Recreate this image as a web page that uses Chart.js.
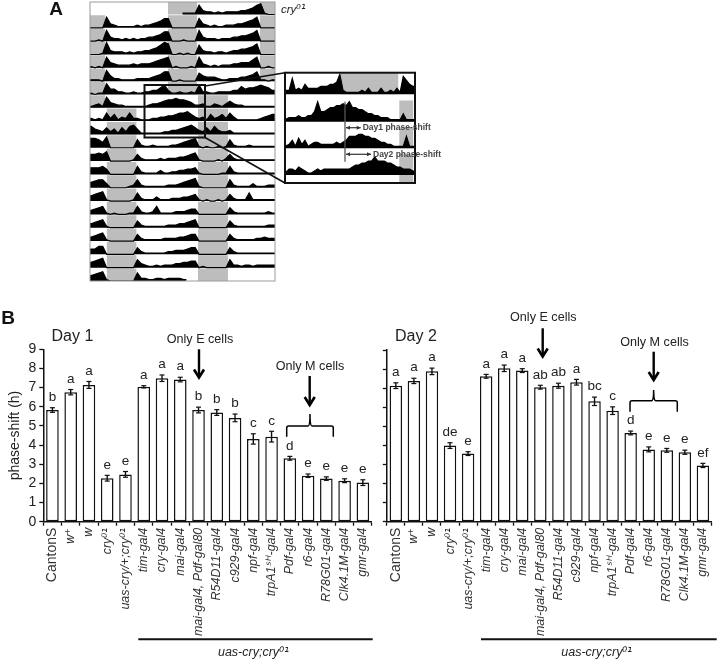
<!DOCTYPE html>
<html>
<head>
<meta charset="utf-8">
<style>
@font-face{font-family:"SupMarks";src:local("DejaVu Sans Oblique"),local("DejaVuSans-Oblique");font-style:italic;unicode-range:U+00B9,U+2070,U+207A,U+02E2,U+1D34}
html,body{margin:0;padding:0;background:#fff;width:720px;height:661px;overflow:hidden}
canvas{position:absolute;display:block}
</style>
<script src="https://cdn.jsdelivr.net/npm/chart.js@4/dist/chart.umd.min.js"></script>
</head>
<body>
<canvas id="acto" style="left:0;top:0" width="720" height="300"></canvas>
<canvas id="inset" style="left:0;top:0" width="720" height="300"></canvas>
<canvas id="day1" style="left:0;top:310px" width="380" height="351"></canvas>
<canvas id="day2" style="left:370px;top:300px" width="350" height="361"></canvas>
<script>
const genotypes = ['CantonS','w⁺','w','cry⁰¹','uas-cry/+;cry⁰¹','tim-gal4','cry-gal4','mai-gal4','mai-gal4, Pdf-gal80','R54D11-gal4','c929-gal4','npf-gal4','trpA1ˢᴴ-gal4','Pdf-gal4','r6-gal4','R78G01-gal4','Clk4.1M-gal4','gmr-gal4'];
const yTicks = [0,1,2,3,4,5,6,7,8,9];

const day1Values = [5.83,6.76,7.14,2.27,2.47,7.04,7.49,7.42,5.83,5.70,5.42,4.32,4.44,3.31,2.40,2.25,2.14,2.04];
const day1Errors = [0.12,0.14,0.18,0.15,0.15,0.06,0.17,0.12,0.15,0.15,0.20,0.27,0.28,0.10,0.09,0.09,0.10,0.15];
const day1Letters = ['b','a','a','e','e','a','a','a','b','b','b','c','c','d','e','e','e','e'];

const day2Values = [7.13,7.38,7.88,3.99,3.57,7.62,8.04,7.92,7.05,7.13,7.31,6.31,5.82,4.65,3.79,3.74,3.64,2.95];
const day2Errors = [0.15,0.14,0.17,0.15,0.10,0.10,0.17,0.10,0.10,0.13,0.15,0.22,0.20,0.10,0.13,0.10,0.11,0.11];
const day2Letters = ['a','a','a','de','e','a','a','a','ab','ab','a','bc','c','d','e','e','e','ef'];

// actogram activity per hour bin, one row per line of the double plot
const actoStart = [24,0,0,0,0,0,0,0,0,0,0,0,0,0,0,0,0,0,0,0,0];
const actoRows = [
[1,1,1,1,7,3,2,2,1,2,1,2,2,2,2,3,3,4,5,7,8,1,0,0],
[0,0,0,0,8,3,2,1,1,1,1,1,2,1,2,2,3,4,5,7,7,0,0,0,0,0,0,0,7,3,2,1,2,1,1,2,2,2,3,3,4,5,6,8,0,0,0,0],
[0,0,1,0,8,3,2,2,1,2,1,2,1,2,2,3,3,4,5,7,7,0,0,0,1,0,0,0,8,3,2,2,2,1,2,2,2,3,3,4,4,5,6,8,0,0,0,0],
[0,0,0,1,9,3,2,2,2,1,2,1,2,2,3,3,4,5,7,9,8,0,0,1,0,1,0,0,7,3,2,2,1,2,2,1,2,3,3,4,4,5,6,8,0,0,0,0],
[1,0,1,0,8,4,3,2,2,2,2,3,2,3,3,3,4,5,6,7,8,0,1,0,0,0,1,0,8,3,2,1,2,1,2,2,2,3,3,4,4,4,6,8,0,0,1,0],
[1,1,1,0,8,4,2,2,1,1,1,1,2,2,2,2,3,4,5,7,7,0,0,1,0,0,0,0,6,4,3,3,3,2,1,1,2,2,2,3,3,4,5,7,1,1,0,1],
[1,0,1,1,8,4,4,2,2,1,1,2,1,1,2,2,3,3,5,7,3,1,1,2,1,1,2,1,7,2,2,1,1,2,2,2,2,3,3,6,4,5,5,6,7,6,5,3],
[1,2,3,1,8,4,3,2,2,1,1,1,1,1,1,2,3,3,4,5,6,6,7,6,6,5,4,2,2,3,1,1,3,2,1,3,5,3,2,2,1,1,1,1,1,1,1,1],
[2,1,2,1,6,2,5,1,3,2,6,2,2,1,1,1,2,2,3,3,4,4,5,6,6,7,5,3,2,3,1,5,2,3,5,2,6,3,1,1,1,1,1,1,2,3,4,5],
[6,4,3,2,5,2,4,1,5,2,6,7,4,1,1,1,1,1,1,2,2,3,3,4,5,6,7,5,3,2,5,2,6,3,2,2,3,1,1,1,1,1,1,1,1,1,1,1],
[7,7,6,4,8,0,0,0,0,0,0,0,6,2,1,1,2,1,1,1,1,2,2,3,4,5,6,7,1,0,1,0,0,1,0,1,6,2,1,1,1,2,1,1,1,1,1,1],
[5,5,6,5,7,0,0,0,0,0,0,1,5,2,1,1,1,1,2,1,2,2,2,3,3,4,5,6,1,0,0,0,0,1,0,2,5,2,1,1,1,1,1,1,1,1,1,1],
[5,5,5,6,4,0,0,0,0,0,0,0,6,2,1,1,1,1,3,1,1,2,2,3,3,4,4,5,1,0,0,0,0,0,1,1,6,2,1,1,1,1,1,1,1,1,1,1],
[4,5,6,6,3,0,0,0,0,0,1,2,6,2,1,1,1,1,1,1,2,2,2,3,4,5,6,7,1,0,0,0,0,0,0,0,6,2,1,1,1,1,3,1,1,1,2,2],
[4,5,6,7,1,0,0,0,0,0,0,1,6,2,1,1,1,3,1,1,1,2,2,2,3,3,4,5,1,0,1,0,0,1,0,1,5,2,1,1,1,6,1,1,1,1,1,1],
[3,4,5,6,1,0,1,0,0,0,1,1,6,2,1,1,2,6,1,1,1,1,2,2,2,3,4,4,0,0,0,0,0,0,0,0,5,2,1,1,1,1,1,1,1,1,2,1],
[3,4,5,6,1,0,0,0,0,0,0,0,5,2,1,1,1,1,1,1,2,2,2,3,3,4,5,6,0,0,0,0,0,0,0,0,5,2,1,1,1,1,1,1,1,1,2,2],
[3,4,5,6,1,0,0,0,0,0,0,0,5,2,1,1,1,1,1,2,2,2,2,3,3,4,5,5,0,0,0,0,0,0,0,0,5,2,1,1,1,1,1,2,2,3,2,2],
[4,4,6,6,0,0,0,0,0,0,0,0,5,2,1,1,1,1,1,1,2,2,3,3,3,4,5,5,0,0,0,0,0,0,0,0,5,2,1,1,1,1,1,1,1,1,1,1],
[4,5,6,7,0,0,0,0,0,0,0,0,6,3,2,1,1,2,1,2,2,2,3,3,4,4,5,5,0,1,0,0,0,0,0,0,6,2,2,1,2,2,1,2,2,2,2,2],
[4,5,6,7,1,0,0,0,0,0,0,0,6,2,2,1,1,2,2,1,2,2,2,2,1]
];
const bandsEarly = [[0,4],[20.2,27.8],[44.1,48]];
const bandsSixth = [[0,4],[20.2,27.8]];
const bandsMid = [[0,4],[28,35.8]];
const bandsLate = [[4.3,12.1],[28,35.8]];
const actoBands = [[[20.2,27.8],[44.1,48]],bandsEarly,bandsEarly,bandsEarly,bandsEarly,bandsEarly,bandsSixth,bandsMid,bandsLate,bandsLate,bandsLate,bandsLate,bandsLate,bandsLate,bandsLate,bandsLate,bandsLate,bandsLate,bandsLate,bandsLate,bandsLate];

// enlarged rows of the inset
const insetRows = [
[2,2,8,2,3,2,5,3,3,3,3,4,4,4,5,5,6,10,2,1,1,1,1,1,2,1,3,1,1,1,3,1,1,2,1,3,1,9,7,5,4],
[1,2,2,2,3,2,2,3,3,5,10,5,5,6,7,7,8,8,9,8,10,7,7,6,6,5,4,4,3,3,2,2,2,1,1,1,1,4,1,1,1],
[1,2,4,1,5,2,4,1,2,3,3,2,2,2,2,2,3,2,3,4,6,6,6,7,7,6,6,5,5,4,3,3,2,2,1,1,1,1,6,1,1],
[1,3,3,2,4,3,2,1,1,2,3,2,3,3,3,3,3,3,3,3,3,4,5,5,6,6,7,7,9,7,7,7,6,6,5,4,4,3,3,3,2]
];
const insetBase = [44.35,30.65,17.35,4];
const insetGrey = [[[17.5,35.8]],[[36,40.5]],[[36,40.5]],[[36,40.5]]];

Chart.defaults.font.family = 'SupMarks, "Liberation Sans", Arial, "DejaVu Sans", sans-serif';
Chart.defaults.animation = false;
Chart.defaults.responsive = false;
Chart.defaults.plugins.legend.display = false;
Chart.defaults.plugins.tooltip.enabled = false;

function line(ctx,x1,y1,x2,y2,w,c){ctx.save();ctx.strokeStyle=c||'#000';ctx.lineWidth=w||1;ctx.beginPath();ctx.moveTo(x1,y1);ctx.lineTo(x2,y2);ctx.stroke();ctx.restore();}
function text(ctx,s,x,y,font,c,align){ctx.save();ctx.font=font;ctx.fillStyle=c||'#222';ctx.textAlign=align||'center';ctx.textBaseline='middle';ctx.fillText(s,x,y);ctx.restore();}
function downArrow(ctx,x,y1,y2){
  line(ctx,x,y1,x,y2-3,2.4,'#000');
  ctx.save();ctx.strokeStyle='#000';ctx.lineWidth=2.6;ctx.lineJoin='miter';ctx.beginPath();ctx.moveTo(x-5,y2-9);ctx.lineTo(x,y2-1);ctx.lineTo(x+5,y2-9);ctx.stroke();ctx.restore();
}
function brace(ctx,x1,x2,y,ye,yt){
  const m=(x1+x2)/2;
  ctx.save();ctx.strokeStyle='#000';ctx.lineWidth=1.5;ctx.beginPath();
  ctx.moveTo(x1,ye);ctx.lineTo(x1,y+2);ctx.quadraticCurveTo(x1,y,x1+2,y);ctx.lineTo(m-2,y);ctx.quadraticCurveTo(m,y,m,yt);ctx.quadraticCurveTo(m,y,m+2,y);ctx.lineTo(x2-2,y);ctx.quadraticCurveTo(x2,y,x2,y+2);ctx.lineTo(x2,ye);ctx.stroke();ctx.restore();
}
function bandDatasets(bands,base,h,order){
  return bands.map(b=>({data:[{x:b[0],y:base+h},{x:b[1],y:base+h}],borderWidth:0,pointRadius:0,backgroundColor:'#bdbdbd',fill:{value:base},order:order}));
}
function traceDataset(vals,start,base,end){
  const pts=vals.map((v,i)=>({x:start+i+0.3,y:base+v}));
  pts.unshift({x:start,y:base+vals[0]});
  pts.push({x:end,y:base+vals[vals.length-1]});
  return {data:pts,borderColor:'#000',borderWidth:1.2,pointRadius:0,tension:0,backgroundColor:'#000',fill:{value:base},order:1};
}

function build(){
// ---------- actogram ----------
const actoDatasets=[];
actoRows.forEach((vals,r)=>{
  const base=(20-r)*10;
  actoDatasets.push(...bandDatasets(actoBands[r],base,9.4,2));
  actoDatasets.push(traceDataset(vals,actoStart[r],base,actoStart[r]+vals.length));
});
new Chart(document.getElementById('acto'),{
  type:'line',
  data:{datasets:actoDatasets},
  options:{
    layout:{padding:{left:90,right:445,top:2,bottom:19}},
    scales:{x:{type:'linear',min:0,max:48,display:false},y:{type:'linear',min:0,max:209.4,display:false}}
  },
  plugins:[{id:'actoDecor',afterDraw(c){
    const ctx=c.ctx,a=c.chartArea;
    ctx.save();ctx.strokeStyle='#9a9a9a';ctx.lineWidth=1;ctx.strokeRect(a.left,a.top,a.right-a.left,a.bottom-a.top);ctx.restore();
    text(ctx,'A',56,9.5,'bold 19px "Liberation Sans"','#111');
    text(ctx,'cry⁰¹',281,10,'italic 11.5px SupMarks, "Liberation Sans"','#222','left');
  }}]
});

// ---------- inset ----------
const insetDatasets=[];
insetRows.forEach((vals,r)=>{
  const top=[55.15,41.2,27.9,14.6][r];
  insetGrey[r].forEach(b=>{
    const base=r===3?0:insetBase[r];
    insetDatasets.push(...bandDatasets([b],base,top-base,2));
  });
  insetDatasets.push(traceDataset(vals,0,insetBase[r],41));
});
new Chart(document.getElementById('inset'),{
  type:'line',
  data:{datasets:insetDatasets},
  options:{
    layout:{padding:{left:285,right:305,top:72.7,bottom:117}},
    scales:{x:{type:'linear',min:0,max:41,display:false},y:{type:'linear',min:0,max:55.15,display:false}}
  },
  plugins:[{id:'insetBg',beforeDatasetsDraw(c){
    const ctx=c.ctx,a=c.chartArea;ctx.save();ctx.fillStyle='#fff';ctx.fillRect(a.left,a.top,a.right-a.left,a.bottom-a.top);ctx.restore();
  },afterDraw(c){
    const ctx=c.ctx,a=c.chartArea;
    ctx.save();ctx.strokeStyle='#111';ctx.lineWidth=2;
    ctx.strokeRect(a.left,a.top,a.right-a.left,a.bottom-a.top);
    ctx.strokeRect(144.5,85,60.5,52.5);
    ctx.restore();
    line(ctx,205,86,285,72.7,1.6,'#111');
    line(ctx,205,137.5,285,183,1.6,'#111');
    line(ctx,345,101.7,345,161.7,1.3,'#555');
    [[127.7,360.7],[154.3,371]].forEach(([y,x2])=>{
      line(ctx,346,y,x2,y,1.2,'#333');
      ctx.save();ctx.fillStyle='#333';
      ctx.beginPath();ctx.moveTo(346,y);ctx.lineTo(350,y-2);ctx.lineTo(350,y+2);ctx.closePath();ctx.fill();
      ctx.beginPath();ctx.moveTo(x2,y);ctx.lineTo(x2-4,y-2);ctx.lineTo(x2-4,y+2);ctx.closePath();ctx.fill();
      ctx.restore();
    });
    text(ctx,'Day1 phase-shift',362.7,128,'bold 8.5px "Liberation Sans"','#444','left');
    text(ctx,'Day2 phase-shift',373,155,'bold 8.5px "Liberation Sans"','#444','left');
  }}]
});

// ---------- bar panels ----------
function tickFont(ctx){
  if(ctx.index===0) return {size:14,style:'normal'};
  return {size:12.5,style:'italic'};
}
function panel(id,values,errors,letters,cfg){
  return new Chart(document.getElementById(id),{
    type:'bar',
    data:{labels:genotypes,datasets:[{data:values,backgroundColor:'#fff',borderColor:'#111',borderWidth:1.5,borderSkipped:false,categoryPercentage:1,barPercentage:0.69}]},
    options:{
      layout:{padding:{left:0,right:cfg.padRight,top:cfg.padTop,bottom:0}},
      scales:{
        x:{
          type:'category',
          afterFit(s){s.height=cfg.axisH;},
          border:{color:'#111',width:1.5},
          grid:{display:true,drawOnChartArea:false,drawTicks:true,tickLength:4,tickColor:'#111',tickWidth:1.3,offset:true},
          ticks:{autoSkip:false,minRotation:90,maxRotation:90,padding:2,color:'#333',font:tickFont}
        },
        y:{
          min:0,max:9,
          afterFit(s){s.width=cfg.axisW;},
          afterBuildTicks(s){s.ticks=yTicks.map(v=>({value:v}));},
          border:{color:'#111',width:1.5},
          grid:{drawOnChartArea:false,drawTicks:true,tickLength:4,tickColor:'#111',tickWidth:1.3},
          title:{display:cfg.showY,text:'phase-shift (h)',color:'#222',font:{size:14},padding:{top:7,bottom:0}},
          ticks:{autoSkip:false,stepSize:1,padding:3,color:'#222',font:{size:14},callback:v=>cfg.showY?String(v):''}
        }
      }
    },
    plugins:[{id:'marks',afterDatasetsDraw(c){
      const ctx=c.ctx,xs=c.scales.x,ys=c.scales.y;
      values.forEach((v,i)=>{
        const x=xs.getPixelForValue(i),t=ys.getPixelForValue(v+errors[i]),b=ys.getPixelForValue(v-errors[i]);
        line(ctx,x,t,x,b,1.4,'#111');
        line(ctx,x-2.5,t,x+2.5,t,1.2,'#111');
        line(ctx,x-2.5,b,x+2.5,b,1.2,'#111');
        text(ctx,letters[i],x,t-10.5,'13.5px "Liberation Sans"','#222');
      });
    },afterDraw(c){
      const ctx=c.ctx;
      ctx.save();ctx.translate(-cfg.ox,-cfg.oy);
      text(ctx,cfg.title,cfg.titleX,336.7,'16px "Liberation Sans"','#222','left');
      text(ctx,'Only E cells',cfg.eX,cfg.eY,'12.6px "Liberation Sans"','#222');
      downArrow(ctx,cfg.eAx,cfg.eA1,cfg.eA2);
      text(ctx,'Only M cells',cfg.mX,cfg.mY,'12.6px "Liberation Sans"','#222');
      downArrow(ctx,cfg.mAx,cfg.mA1,cfg.mA2);
      brace(ctx,cfg.b1,cfg.b2,cfg.by,cfg.bye,cfg.byt);
      line(ctx,cfg.r1,639.2,cfg.r2,639.2,2,'#111');
      text(ctx,'uas-cry;cry⁰¹',(cfg.r1+cfg.r2)/2-2,652.7,'italic 12.5px SupMarks, "Liberation Sans"','#222');
      if(cfg.showY) text(ctx,'B',8,319,'bold 19px "Liberation Sans"','#111');
      ctx.restore();
    }}]
  });
}
panel('day1',day1Values,day1Errors,day1Letters,{ox:0,oy:310,padRight:5,padTop:39.3,axisW:43.3,axisH:139.3,showY:true,
  title:'Day 1',titleX:51.5,eX:200,eY:339.3,eAx:199,eA1:349.3,eA2:378.5,mX:310,mY:366.7,mAx:309.7,mA1:376,mA2:406,
  b1:286.7,b2:333.3,by:426,bye:436.7,byt:414,r1:138.3,r2:372.7});
panel('day2',day2Values,day2Errors,day2Letters,{ox:370,oy:300,padRight:3,padTop:50,axisW:16.8,axisH:139.3,showY:false,
  title:'Day 2',titleX:395,eX:543.3,eY:317.7,eAx:542.7,eA1:328.3,eA2:357.5,mX:654.5,mY:342.3,mAx:653.7,mA1:351.7,mA2:381,
  b1:630,b2:677.3,by:400.7,bye:411.7,byt:390,r1:481,r2:716.7});
}
document.fonts.load('italic 12px SupMarks','⁰¹⁺ˢᴴ').then(build,build);
</script>
</body>
</html>
